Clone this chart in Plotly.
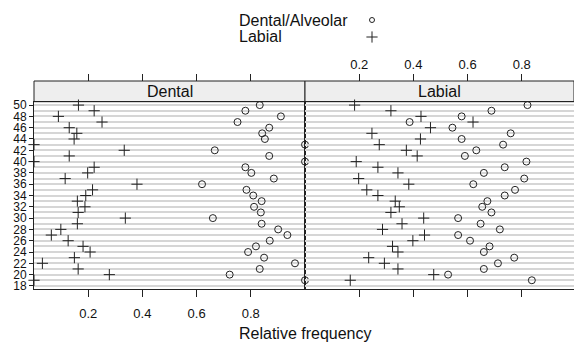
import plotly.graph_objects as go

# ---- data ----
ages = list(range(50, 18, -1))  # 50 .. 19

dental_panel_alveolar = [0.833, 0.780, 0.911, 0.751, 0.868, 0.842, 0.852, 1.000, 0.667, 0.868,
                         1.000, 0.780, 0.802, 0.885, 0.620, 0.784, 0.809, 0.840, 0.812, 0.837,
                         0.660, 0.840, 0.901, 0.935, 0.870, 0.819, 0.790, 0.849, 0.963, 0.833,
                         0.722, 1.000]
dental_panel_labial = [0.164, 0.222, 0.090, 0.251, 0.130, 0.158, 0.148, 0.000, 0.333, 0.130,
                       0.000, 0.222, 0.198, 0.115, 0.380, 0.216, 0.191, 0.160, 0.188, 0.163,
                       0.337, 0.160, 0.099, 0.064, 0.126, 0.181, 0.207, 0.149, 0.031, 0.163,
                       0.278, 0.000]
labial_panel_alveolar = [0.821, 0.688, 0.578, 0.386, 0.544, 0.759, 0.578, 0.731, 0.632, 0.590,
                         0.817, 0.737, 0.660, 0.809, 0.621, 0.775, 0.737, 0.673, 0.654, 0.688,
                         0.565, 0.648, 0.719, 0.565, 0.609, 0.681, 0.660, 0.772, 0.712, 0.660,
                         0.528, 0.837]
labial_panel_labial = [0.183, 0.317, 0.428, 0.620, 0.463, 0.247, 0.426, 0.274, 0.374, 0.414,
                       0.189, 0.269, 0.343, 0.198, 0.383, 0.228, 0.269, 0.333, 0.348, 0.317,
                       0.438, 0.358, 0.286, 0.441, 0.398, 0.323, 0.343, 0.235, 0.293, 0.343,
                       0.475, 0.167]

panel_names = ["Dental", "Labial"]
series_names = ["Dental/Alveolar", "Labial"]
x_ticks = [0.2, 0.4, 0.6, 0.8]
y_ticks = list(range(18, 51, 2))

# ---- layout geometry (pixels) ----
W, H = 574, 342
ML = 34
PW = W - ML
def px(xp):
    return (xp - ML) / PW
def py(yp):
    return 1 - yp / H

panel_top, panel_bot = 101.7, 289.3
strip_top = 81
split = 305
FONT = "Liberation Sans, Arial, sans-serif"
INK = "#222222"
GRID = "#d6d6d6"

fig = go.Figure()

circle_style = dict(symbol="circle-open", size=7, color=INK, line=dict(width=1, color=INK))
cross_style = dict(symbol="cross-thin-open", size=8, color=INK, line=dict(width=1, color=INK))

dom_l = [0, px(split)]
dom_r = [px(split), 1]
ydom = [py(panel_bot), py(panel_top)]
rng_l = [0, 1]
rng_r = [0, (W - split) / (split - ML)]
yrng = [17.4, 50.6]

# dummy traces so the top (strip-side) tick axes exist (on their own hidden y axis)
fig.add_trace(go.Scatter(x=[None], y=[None], xaxis="x3", yaxis="y3", showlegend=False, hoverinfo="skip"))
fig.add_trace(go.Scatter(x=[None], y=[None], xaxis="x4", yaxis="y4", showlegend=False, hoverinfo="skip"))

for i, (alv, lab) in enumerate([(dental_panel_alveolar, dental_panel_labial),
                                (labial_panel_alveolar, labial_panel_labial)]):
    xa = "x" if i == 0 else "x2"
    ya = "y" if i == 0 else "y2"
    fig.add_trace(go.Scatter(x=alv, y=ages, mode="markers", marker=circle_style,
                             xaxis=xa, yaxis=ya, cliponaxis=False, showlegend=False,
                             name=series_names[0]))
    fig.add_trace(go.Scatter(x=lab, y=ages, mode="markers", marker=cross_style,
                             xaxis=xa, yaxis=ya, cliponaxis=False, showlegend=False,
                             name=series_names[1]))

# legend symbols on a hidden full-paper axis
fig.add_trace(go.Scatter(x=[372], y=[20], mode="markers", xaxis="x5", yaxis="y5",
                         marker=dict(symbol="circle-open", size=5, color=INK, line=dict(width=1, color=INK)),
                         showlegend=False, cliponaxis=False, hoverinfo="skip"))
fig.add_trace(go.Scatter(x=[372], y=[37], mode="markers", xaxis="x5", yaxis="y5",
                         marker=dict(symbol="cross-thin-open", size=8, color=INK, line=dict(width=1, color=INK)),
                         showlegend=False, cliponaxis=False, hoverinfo="skip"))

tickfont = dict(family=FONT, size=13, color="#111")
common_x = dict(showgrid=False, zeroline=False, tickmode="array", tickvals=x_ticks,
                ticktext=[str(t) for t in x_ticks],
                ticks="outside", ticklen=7, tickcolor=INK, tickwidth=1, tickfont=tickfont,
                showline=True, linecolor=INK, linewidth=1, mirror=True, automargin=False,
                fixedrange=True, ticklabelstandoff=5)
top_x = dict(tickmode="array", tickvals=x_ticks, ticktext=[str(t) for t in x_ticks],
             ticks="outside", ticklen=7, tickcolor=INK, tickwidth=1, tickfont=tickfont,
             showgrid=False, zeroline=False, showline=False, automargin=False,
             anchor="free", position=py(strip_top), side="top", fixedrange=True)
common_y = dict(range=yrng, tickmode="array", tickvals=y_ticks, showgrid=True, gridcolor=GRID,
                gridwidth=1.5,
                minor=dict(dtick=1, tick0=18, showgrid=True, gridcolor=GRID, gridwidth=1.5),
                zeroline=False, showline=True, linecolor=INK, linewidth=1, mirror=True,
                automargin=False, domain=ydom, tickfont=dict(family=FONT, size=12, color="#111"),
                fixedrange=True)
hidden_y = dict(range=yrng, domain=ydom, visible=False, showgrid=False, fixedrange=True)

fig.update_layout(
    width=W, height=H,
    margin=dict(l=ML, r=0, t=0, b=0),
    paper_bgcolor="white", plot_bgcolor="rgba(0,0,0,0)",
    font=dict(family=FONT, color="#111"),
    showlegend=False,
    xaxis=dict(domain=dom_l, range=rng_l, anchor="y", side="bottom", showticklabels=True, **common_x),
    xaxis2=dict(domain=dom_r, range=rng_r, anchor="y2", side="bottom", showticklabels=False, **common_x),
    xaxis3=dict(domain=dom_l, range=rng_l, showticklabels=False, **top_x),
    xaxis4=dict(domain=dom_r, range=rng_r, showticklabels=True, **top_x),
    yaxis=dict(anchor="x", ticks="outside", ticklen=4, tickcolor=INK, showticklabels=True, **common_y),
    yaxis2=dict(anchor="x2", ticks="", showticklabels=False, **common_y),
    yaxis3=dict(anchor="x3", **hidden_y),
    yaxis4=dict(anchor="x4", **hidden_y),
    xaxis5=dict(domain=[0, 1], range=[ML, W], anchor="y5", visible=False, fixedrange=True),
    yaxis5=dict(domain=[0, 1], range=[H, 0], anchor="x5", visible=False, fixedrange=True),
)

# strips
shapes = []
annotations = []
for name, dom in zip(panel_names, [dom_l, dom_r]):
    shapes.append(dict(type="rect", xref="paper", yref="paper", x0=dom[0], x1=dom[1],
                       y0=py(panel_top), y1=py(strip_top), fillcolor="#eeeeee",
                       line=dict(color=INK, width=1), layer="below"))
    annotations.append(dict(text=name, xref="paper", yref="paper", x=(dom[0] + dom[1]) / 2,
                            y=py((strip_top + panel_top) / 2), showarrow=False,
                            xanchor="center", yanchor="middle",
                            font=dict(family=FONT, size=16, color="#111")))

# legend text
annotations.append(dict(text=series_names[0], xref="paper", yref="paper", x=px(237), y=py(21),
                        xanchor="left", yanchor="middle", showarrow=False,
                        font=dict(family=FONT, size=16, color="#111")))
annotations.append(dict(text=series_names[1], xref="paper", yref="paper", x=px(237), y=py(37),
                        xanchor="left", yanchor="middle", showarrow=False,
                        font=dict(family=FONT, size=16, color="#111")))
# x title
annotations.append(dict(text="Relative frequency", xref="paper", yref="paper", x=px(split), y=py(333),
                        xanchor="center", yanchor="middle", showarrow=False,
                        font=dict(family=FONT, size=16, color="#111")))

fig.update_layout(shapes=shapes, annotations=annotations)
fig.write_html("out.html")
